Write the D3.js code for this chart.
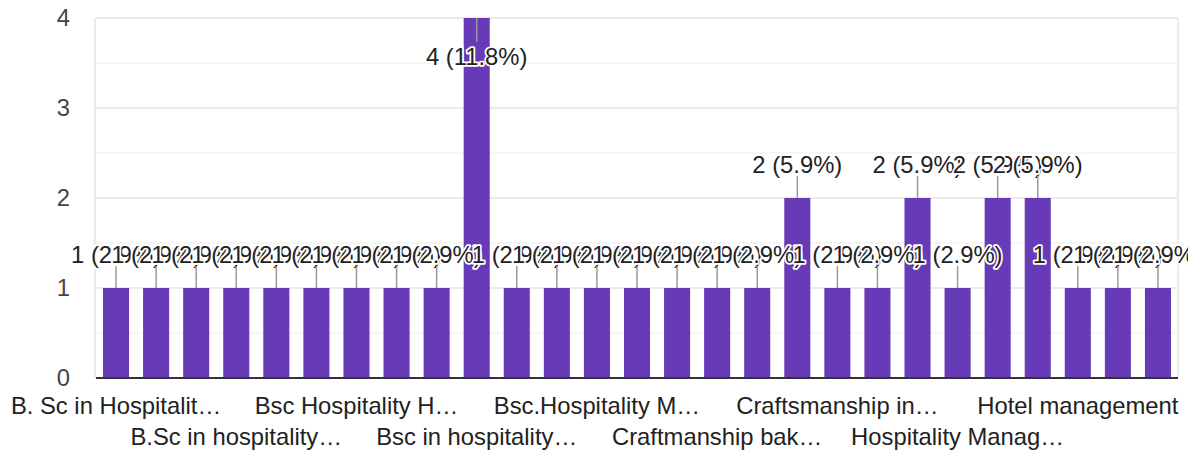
<!DOCTYPE html>
<html>
<head>
<meta charset="utf-8">
<script src="https://cdn.jsdelivr.net/npm/d3@7/dist/d3.min.js"></script>
<style>
  html, body { margin: 0; padding: 0; background: #fff; }
  svg { display: block; font-family: "Liberation Sans", Arial, sans-serif; }
</style>
</head>
<body>
<svg id="chart" width="1188" height="450"></svg>
<script>
// ---- data ----
const categories = [
  "B. Sc in Hospitalit…", "(hidden 2)", "(hidden 3)",
  "B.Sc in hospitality…", "(hidden 5)", "(hidden 6)",
  "Bsc Hospitality H…", "(hidden 8)", "(hidden 9)",
  "Bsc in hospitality…", "(hidden 11)", "(hidden 12)",
  "Bsc.Hospitality M…", "(hidden 14)", "(hidden 15)",
  "Craftmanship bak…", "(hidden 17)", "(hidden 18)",
  "Craftsmanship in…", "(hidden 20)", "(hidden 21)",
  "Hospitality Manag…", "(hidden 23)", "(hidden 24)",
  "Hotel management", "(hidden 26)", "(hidden 27)"
];
const values = [1,1,1,1,1,1,1,1,1,4,1,1,1,1,1,1,1,2,1,1,2,1,2,2,1,1,1];
const tickLabels = ["B. Sc in Hospitalit…", "B.Sc in hospitality…", "Bsc Hospitality H…",
  "Bsc in hospitality…", "Bsc.Hospitality M…", "Craftmanship bak…",
  "Craftsmanship in…", "Hospitality Manag…", "Hotel management"];
const tickIndices = [0,3,6,9,12,15,18,21,24];
const yTicks = [0,1,2,3,4];
const yMinor = [0.5,1.5,2.5,3.5];
const total = d3.sum(values);

// ---- layout ----
const svg = d3.select("#chart");
const pLeft = 96, pRight = 1178, pTop = 18, pBottom = 378;
const FS = 23.8;

const x = d3.scaleBand().domain(categories).range([pLeft, pRight]).paddingInner(0.35).paddingOuter(0.175);
const y = d3.scaleLinear().domain([0, 4]).range([pBottom, pTop]);

// minor gridlines
svg.append("g").selectAll("line").data(yMinor).join("line")
  .attr("x1", pLeft).attr("x2", pRight)
  .attr("y1", d => y(d)).attr("y2", d => y(d))
  .attr("stroke", "#f3f3f3").attr("stroke-width", 1.5);
// major gridlines
svg.append("g").selectAll("line").data(yTicks.filter(d => d > 0)).join("line")
  .attr("x1", pLeft).attr("x2", pRight)
  .attr("y1", d => y(d)).attr("y2", d => y(d))
  .attr("stroke", "#ebebeb").attr("stroke-width", 2);
// side borders
svg.append("g").selectAll("line").data([pLeft - 1, pRight]).join("line")
  .attr("x1", d => d).attr("x2", d => d)
  .attr("y1", pTop).attr("y2", pBottom)
  .attr("stroke", "#ebebeb").attr("stroke-width", 2);

// bars
svg.append("g").selectAll("rect").data(values).join("rect")
  .attr("x", (d, i) => x(categories[i]))
  .attr("width", x.bandwidth())
  .attr("y", d => y(d))
  .attr("height", d => y(0) - y(d))
  .attr("fill", "#673ab7");

// baseline
svg.append("line")
  .attr("x1", pLeft).attr("x2", pRight).attr("y1", y(0)).attr("y2", y(0))
  .attr("stroke", "#333").attr("stroke-width", 2);

// y axis
const yAxis = svg.append("g").attr("transform", `translate(${pLeft},0)`)
  .call(d3.axisLeft(y).tickValues(yTicks).tickFormat(d3.format("d")).tickSize(0).tickPadding(26));
yAxis.select(".domain").remove();
yAxis.selectAll("text").attr("font-size", FS).attr("font-family", "Liberation Sans, Arial, sans-serif")
  .attr("fill", "#444");

// x axis
const xAxis = svg.append("g").attr("transform", `translate(0,${pBottom})`)
  .call(d3.axisBottom(x).tickValues(tickIndices.map(i => categories[i]))
    .tickFormat((d, k) => tickLabels[k]).tickSize(0));
xAxis.select(".domain").remove();
xAxis.selectAll("text")
  .attr("font-size", FS).attr("font-family", "Liberation Sans, Arial, sans-serif")
  .attr("fill", "#222")
  .attr("dy", null)
  .attr("y", (d, k) => (k % 2 === 0 ? 36 : 67));

// annotations
const ann = svg.append("g");
values.forEach((v, i) => {
  const cx = x(categories[i]) + x.bandwidth() / 2;
  const yt = y(v);
  const inside = yt - 50 < 0;
  const stemEnd = inside ? yt + 24 : yt - 22;
  const base = inside ? yt + 47 : yt - 25;
  ann.append("line")
    .attr("x1", cx).attr("x2", cx).attr("y1", yt).attr("y2", stemEnd)
    .attr("stroke", "#999").attr("stroke-width", 1.5);
  const pct = (v / total * 100).toFixed(1);
  ann.append("text")
    .attr("x", cx).attr("y", base)
    .attr("text-anchor", "middle")
    .attr("font-size", FS)
    .attr("fill", "#222")
    .attr("stroke", "#fff").attr("stroke-width", 3.5)
    .attr("stroke-linejoin", "round")
    .attr("paint-order", "stroke")
    .text(`${v} (${pct}%)`);
});
</script>
</body>
</html>
